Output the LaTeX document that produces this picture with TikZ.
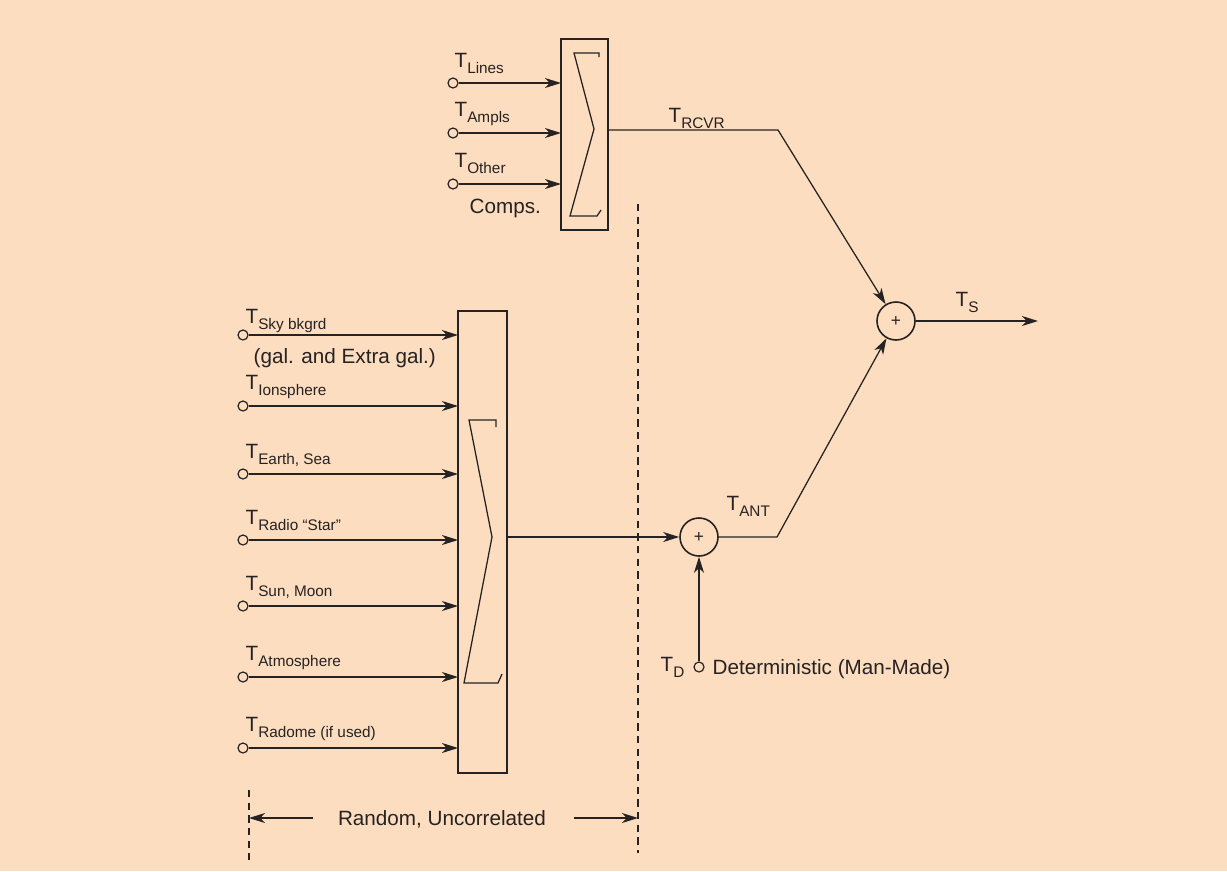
\documentclass[tikz,border=0pt]{standalone}
\usepackage{fontspec}
\setmainfont{Liberation Sans}
\usetikzlibrary{arrows.meta,positioning,calc}
\definecolor{peach}{RGB}{252,221,192}
\definecolor{ink}{RGB}{38,34,34}
\newcommand{\Tsub}[1]{T\raisebox{-4.5pt}{\fontsize{11.5}{12}\selectfont #1}}

\begin{document}
\begin{tikzpicture}[x=0.75pt, y=-0.75pt,
      font=\fontsize{15.5}{18}\selectfont, color=ink, line width=0.95pt,
      blk/.style={draw, line width=1.3pt, inner sep=0, outer sep=0},
      sumnode/.style={draw, circle, line width=1.2pt, minimum size=28.5pt, inner sep=0,
          font=\fontsize{13}{13}\selectfont},
      port/.style={draw, circle, line width=0.9pt, minimum size=7.5pt, inner sep=0, fill=peach},
      lbl/.style={anchor=base west, inner sep=0},
      flow/.style={-{Stealth[length=12pt, width=7.5pt, inset=3.5pt]}},
      sep/.style={dashed, dash pattern=on 5.5pt off 4pt, line width=0.9pt}]

    \fill[peach] (0,0) rectangle (1227,871);
    \useasboundingbox (0,0) rectangle (1227,871);

    % receiver components
    \node (rcvr) [blk, minimum width=35.25pt, minimum height=143.25pt] at (584.5,134.5) {};
    \draw (599,57) -- (599,53) -- (574,53) -- (594,129) -- (570,216) -- (597,216) -- (601,210);

    \foreach \name/\y/\base/\txt in {lines/83/67/Lines, ampls/133/116/Ampls, other/184/167/Other}{
        \node (\name) [port] at (453,\y) {};
        \node [lbl] at (454,\base) {\Tsub{\txt}};
        \draw[flow] (\name) -- (\name -| rcvr.west);
    }
    \node (comps) [lbl] at (469,213) {Comps.};

    % antenna components
    \node (ant) [blk, minimum width=36.75pt, minimum height=346.5pt] at (482.5,542) {};
    \draw (496,427) -- (496,420) -- (469,420) -- (492,537) -- (464,683) -- (498,683) -- (502,674);

    \foreach \name/\y/\base/\txt in {sky/335/323/Sky bkgrd, iono/406/389/Ionsphere,
        earth/474/458/{Earth, Sea}, radio/540/524/Radio ``Star'', sun/606/590/{Sun, Moon},
        atmo/677/660/Atmosphere, radome/748/731/Radome (if used)}{
        \node (\name) [port] at (243,\y) {};
        \node [lbl] at (245,\base) {\Tsub{\txt}};
        \draw[flow] (\name) -- (\name -| ant.west);
    }
    \node (gal) [lbl] at (253,363) {(gal. and Extra gal.)};

    % summing junctions
    \node (sumA) [sumnode] at (699,537) {+};
    \node (sumS) [sumnode] at (896,321) {+};
    \node (det) [port] at (699,667) {};

    \coordinate (bendR) at (778,130);
    \coordinate (bendA) at (777,537);
    \coordinate (out) at (1038,321);

    \draw[flow] (rcvr.east |- bendR) -- (bendR) -- (sumS);
    \draw[flow] (ant.east |- sumA) -- (sumA);
    \draw[flow] (sumA) -- (bendA) -- (sumS);
    \draw[flow] (det) -- (sumA);
    \draw[flow] (sumS) -- (out);

    \node [lbl] at (668,122) {\Tsub{RCVR}};
    \node [lbl] at (726,510) {\Tsub{ANT}};
    \node [lbl] at (955,306) {\Tsub{S}};
    \node [lbl] at (660,671) {\Tsub{D}};
    \node (detlbl) [lbl] at (712,674) {Deterministic (Man-Made)};

    % random, uncorrelated span
    \coordinate (sepL) at (249,790);
    \coordinate (sepR) at (638,204);
    \coordinate (spanL) at (313,818);
    \coordinate (spanR) at (574,818);
    \draw[sep] (sepL) -- (249,860);
    \draw[sep] (sepR) -- (638,853);
    \node (rand) at (442,819) {Random, Uncorrelated};
    \draw[flow] (spanL) -- (sepL |- spanL);
    \draw[flow] (spanR) -- (sepR |- spanR);
\end{tikzpicture}
\end{document}
